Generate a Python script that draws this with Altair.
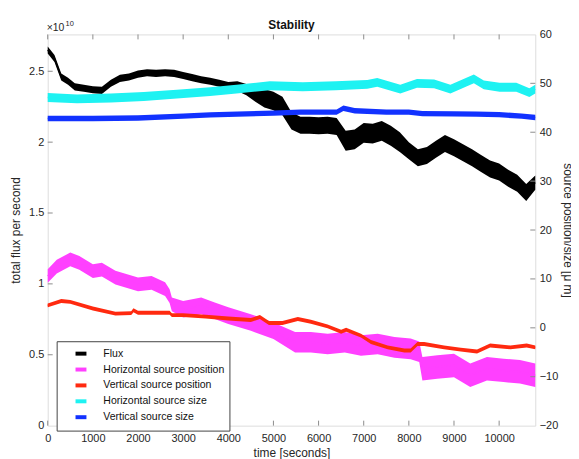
import altair as alt
import pandas as pd

FONT = "Liberation Sans"
W, H = 491, 394

# ---------------- data ----------------
series_names = ["Flux", "Horizontal source position", "Vertical source position",
                "Horizontal source size", "Vertical source size"]
series_colors = ["#000000", "#ff40ff", "#ff2a10", "#1ef2f2", "#1232ff"]

# Flux (units of 1e10) - centre and half spread of the point cloud
flux_t = [0, 150, 300, 450, 600, 800, 1000, 1200, 1400, 1600, 1800, 2000, 2200, 2400,
          2600, 2800, 3000, 3200, 3400, 3600, 3800, 4000, 4200, 4400, 4600, 4800, 5000,
          5200, 5400, 5600, 5800, 6000, 6200, 6400, 6600, 6800, 7000, 7200, 7400, 7600,
          7800, 8000, 8200, 8400, 8600, 8800, 9000, 9200, 9400, 9600, 9800, 10000, 10200,
          10400, 10600, 10800]
flux_v = [2.65, 2.59, 2.46, 2.43, 2.39, 2.38, 2.37, 2.365, 2.415, 2.45, 2.46, 2.48, 2.49,
          2.485, 2.49, 2.485, 2.47, 2.455, 2.44, 2.43, 2.415, 2.40, 2.395, 2.37, 2.345,
          2.31, 2.29, 2.255, 2.15, 2.12, 2.12, 2.115, 2.12, 2.11, 2.01, 2.02, 2.065, 2.06,
          2.08, 2.045, 2.0, 1.94, 1.89, 1.905, 1.95, 1.99, 1.96, 1.925, 1.89, 1.85, 1.81,
          1.79, 1.745, 1.71, 1.645, 1.715]
flux_hw = [0.025, 0.025, 0.025, 0.025, 0.025, 0.025, 0.025, 0.025, 0.025, 0.025, 0.025,
           0.025, 0.025, 0.025, 0.025, 0.025, 0.025, 0.025, 0.025, 0.025, 0.025, 0.025,
           0.035, 0.04, 0.06, 0.065, 0.065, 0.065, 0.06, 0.06, 0.06, 0.06, 0.06, 0.06,
           0.07, 0.07, 0.07, 0.07, 0.07, 0.07, 0.07, 0.06, 0.06, 0.06, 0.06, 0.06, 0.06,
           0.06, 0.06, 0.06, 0.06, 0.06, 0.06, 0.06, 0.06, 0.05]

# Horizontal source position (um)
hpos_t = [0, 200, 500, 700, 1000, 1200, 1500, 2000, 2300, 2600, 2700, 2750, 3000, 3400,
          3700, 4000, 4500, 5000, 5480, 5830, 6200, 6580, 6940, 7310, 7680, 8040, 8230,
          8300, 8630, 9000, 9360, 9730, 10100, 10460, 10800]
hpos_v = [10.6, 12.5, 14.0, 13.3, 11.6, 11.9, 10.25, 8.9, 9.2, 7.9, 6.5, 4.8, 3.8, 4.5,
          3.5, 2.5, 1.1, -0.6, -2.95, -2.95, -3.3, -2.95, -3.6, -3.3, -4.0, -4.3, -4.9,
          -8.35, -8.0, -7.7, -9.7, -8.35, -8.7, -9.0, -9.7]
hpos_hw = [1.4, 1.4, 1.4, 1.4, 1.4, 1.4, 1.4, 1.4, 1.4, 1.4, 1.4, 1.4, 1.7, 1.7, 1.7,
           1.7, 1.7, 1.7, 2.1, 2.1, 2.1, 2.1, 2.1, 2.1, 2.1, 2.1, 2.1, 2.4, 2.4, 2.4,
           2.4, 2.4, 2.4, 2.4, 2.4]

# Vertical source position (um)
vpos_t = [0, 300, 500, 1000, 1500, 1850, 1900, 2000, 2500, 2700, 2750, 3000, 3500, 4000,
          4500, 4700, 4900, 5200, 5540, 5830, 6200, 6500, 6610, 6940, 7160, 7530, 7900,
          8040, 8190, 8340, 8780, 9150, 9510, 9800, 10250, 10610, 10800]
vpos_v = [4.6, 5.5, 5.3, 3.96, 2.9, 3.0, 3.6, 3.1, 3.1, 3.1, 2.6, 2.6, 2.3, 1.9, 1.6,
          2.2, 1.0, 1.0, 1.8, 1.25, 0.3, -0.8, -0.4, -1.6, -2.9, -4.0, -4.65, -4.65,
          -3.3, -3.3, -4.0, -4.45, -4.85, -3.6, -4.0, -3.6, -4.0]
vpos_hw = [0.4] * len(vpos_t)

# Horizontal source size (um)
hsize_t = [0, 650, 1400, 2130, 2860, 3600, 4180, 4920, 5650, 6380, 7080, 7300, 7810,
           8180, 8560, 8920, 9440, 9660, 10010, 10380, 10670, 10800]
hsize_v = [47.1, 46.8, 47.0, 47.3, 47.8, 48.3, 48.8, 49.5, 49.3, 49.5, 49.8, 50.2, 48.8,
           50.0, 49.9, 48.8, 50.9, 49.7, 49.2, 49.2, 48.1, 48.8]
hsize_hw = [0.9] * len(hsize_t)

# Vertical source size (um)
vsize_t = [0, 1000, 2000, 3000, 3600, 4200, 5000, 5600, 6400, 6550, 6600, 6800, 7500,
           8000, 8300, 9000, 9500, 10000, 10500, 10800]
vsize_v = [42.8, 42.8, 42.9, 43.3, 43.55, 43.7, 43.9, 44.1, 44.1, 44.9, 44.8, 44.4, 44.1,
           44.1, 43.8, 43.75, 43.7, 43.6, 43.3, 43.0]
vsize_hw = [0.55] * len(vsize_t)

x_ticks = [0, 1000, 2000, 3000, 4000, 5000, 6000, 7000, 8000, 9000, 10000]
left_ticks = [0, 0.5, 1, 1.5, 2, 2.5]
right_ticks = [-20, -10, 0, 10, 20, 30, 40, 50, 60]


def frame(name, t, v, hw):
    return pd.DataFrame({
        "t": t, "v": v,
        "lo": [a - b for a, b in zip(v, hw)],
        "hi": [a + b for a, b in zip(v, hw)],
        "series": name,
    })


xscale = alt.Scale(domain=[0, 10800], nice=False, zero=False)
lscale = alt.Scale(domain=[0, 2.76], nice=False, zero=False)
rscale = alt.Scale(domain=[-20, 60], nice=False, zero=False)

legend = alt.Legend(
    orient="none", legendX=9, legendY=309, title=None,
    symbolType="stroke", symbolStrokeWidth=4, symbolSize=121, symbolOffset=12,
    labelFont=FONT, labelFontSize=10.6, labelColor="#111111", labelOffset=15,
    strokeColor="#444444", fillColor="white", padding=5, rowPadding=-6,
    symbolOpacity=1,
)
color = alt.Color("series:N", scale=alt.Scale(domain=series_names, range=series_colors),
                  legend=legend)

xenc = alt.X("t:Q", scale=xscale,
             axis=alt.Axis(values=x_ticks, tickSize=0, domain=False, grid=False,
                           labelFlush=False, labelPadding=7, labelFont=FONT, format="d",
                           labelFontSize=11, labelColor="#262626",
                           title="time [seconds]", titleFont=FONT, titleFontSize=12,
                           titleFontWeight="normal", titleColor="#262626",
                           titlePadding=4))

laxis = alt.Axis(values=left_ticks, tickSize=0, domain=False, grid=False, format="~g",
                 labelPadding=4, labelFont=FONT, labelFontSize=11, labelColor="#262626",
                 title="total flux per second", titleFont=FONT, titleFontSize=12,
                 titleFontWeight="normal", titleColor="#262626", titlePadding=6)
raxis = alt.Axis(values=right_ticks, tickSize=0, domain=False, grid=False, orient="right",
                 labelPadding=4, labelFont=FONT, labelFontSize=11, labelColor="#262626",
                 title="source position/size [\u03bc m]", titleFont=FONT, titleFontSize=12,
                 titleFontWeight="normal", titleColor="#262626", titlePadding=3)


def band(df, scale, axis):
    base = alt.Chart(df)
    area = base.mark_area(opacity=1, interpolate="linear").encode(
        x=xenc,
        y=alt.Y("lo:Q", scale=scale, axis=axis),
        y2="hi:Q",
        color=color,
    )
    line = base.mark_line(strokeWidth=1.5, interpolate="linear").encode(
        x="t:Q", y=alt.Y("v:Q", scale=scale), color=color)
    return [area, line]


flux_df = frame("Flux", flux_t, flux_v, flux_hw)

tick_color = "#8c8c8c"
xt_df = pd.DataFrame({"t": x_ticks})
bottom_ticks = alt.Chart(xt_df).mark_rule(color=tick_color, strokeWidth=1).encode(
    x="t:Q", y=alt.value(H - 5), y2=alt.value(H))
top_ticks = alt.Chart(xt_df).mark_rule(color=tick_color, strokeWidth=1).encode(
    x="t:Q", y=alt.value(0), y2=alt.value(5))
lt_df = pd.DataFrame({"v": left_ticks[1:]})
left_tick_marks = alt.Chart(lt_df).mark_rule(color=tick_color, strokeWidth=1).encode(
    y=alt.Y("v:Q", scale=lscale), x=alt.value(0), x2=alt.value(5))
rt_df = pd.DataFrame({"v": right_ticks[1:-1]})
right_tick_marks = alt.Chart(rt_df).mark_rule(color=tick_color, strokeWidth=1).encode(
    y=alt.Y("v:Q", scale=rscale), x=alt.value(W - 5), x2=alt.value(W))

one = pd.DataFrame({"a": [1]})
exp_base = alt.Chart(one).mark_text(align="left", baseline="alphabetic", font=FONT,
                                    fontSize=10.5, color="#262626").encode(
    x=alt.value(-1), y=alt.value(-3), text=alt.value("\u00d710"))
exp_sup = alt.Chart(one).mark_text(align="left", baseline="alphabetic", font=FONT,
                                   fontSize=7.5, color="#262626").encode(
    x=alt.value(18), y=alt.value(-8), text=alt.value("10"))
title_txt = alt.Chart(one).mark_text(align="center", baseline="alphabetic", font=FONT,
                                     fontSize=12, fontWeight="bold", color="#111111").encode(
    x=alt.value(W / 2), y=alt.value(-5), text=alt.value("Stability"))

left = alt.layer(*band(flux_df, lscale, laxis), left_tick_marks, bottom_ticks, top_ticks,
                 exp_base, exp_sup, title_txt)

right_layers = []
for name, t, v, hw in [
    ("Horizontal source position", hpos_t, hpos_v, hpos_hw),
    ("Vertical source position", vpos_t, vpos_v, vpos_hw),
    ("Horizontal source size", hsize_t, hsize_v, hsize_hw),
    ("Vertical source size", vsize_t, vsize_v, vsize_hw),
]:
    right_layers += band(frame(name, t, v, hw), rscale, raxis)
right = alt.layer(*right_layers, right_tick_marks)

chart = alt.layer(left, right).resolve_scale(y="independent").properties(
    width=W, height=H,
    autosize=alt.AutoSizeParams(type="none"),
    padding={"left": 40, "top": 25, "right": 36, "bottom": 32},
).configure_view(stroke="#8c8c8c", strokeWidth=1).configure(background="white")

chart.save("out.html", embed_options={"renderer": "svg", "actions": False})
